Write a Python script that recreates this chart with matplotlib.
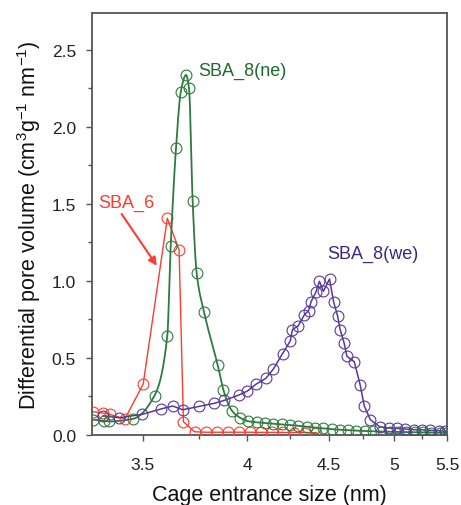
import numpy as np
import matplotlib
matplotlib.use('Agg')
import matplotlib.pyplot as plt
from matplotlib.ticker import FixedLocator, MultipleLocator, FormatStrFormatter

plt.rcParams['font.family'] = ['Liberation Sans', 'DejaVu Sans']
plt.rcParams['mathtext.fontset'] = 'custom'
plt.rcParams['mathtext.rm'] = 'Liberation Sans'
plt.rcParams['mathtext.it'] = 'Liberation Sans:italic'

# ---------------- data ----------------
sba6_x = [3.305, 3.340, 3.368, 3.427, 3.502, 3.606, 3.659, 3.679, 3.731, 3.785,
          3.839, 3.896, 3.954, 4.014, 4.076, 4.140, 4.205, 4.273, 4.343, 4.416]
sba6_y = [0.151, 0.143, 0.134, 0.104, 0.331, 1.407, 1.203, 0.086, 0.021, 0.018,
          0.018, 0.018, 0.018, 0.018, 0.017, 0.017, 0.017, 0.016, 0.016, 0.015]

ne_x = [3.305, 3.345, 3.364, 3.460, 3.550, 3.606, 3.621, 3.645, 3.667, 3.691,
        3.705, 3.722, 3.741, 3.777, 3.844, 3.874, 3.917, 3.961, 4.006, 4.052,
        4.099, 4.147, 4.197, 4.247, 4.299, 4.352, 4.407, 4.462, 4.520, 4.578,
        4.639, 4.701, 4.764, 4.829, 4.896, 4.965, 5.036, 5.109, 5.184, 5.262,
        5.342, 5.424, 5.490]
ne_y = [0.100, 0.092, 0.088, 0.105, 0.256, 0.645, 1.225, 1.862, 2.229, 2.338,
        2.251, 1.522, 1.052, 0.797, 0.456, 0.290, 0.159, 0.112, 0.089, 0.082,
        0.078, 0.073, 0.069, 0.065, 0.060, 0.054, 0.048, 0.043, 0.038, 0.034,
        0.031, 0.028, 0.026, 0.024, 0.022, 0.021, 0.020, 0.019, 0.018, 0.017,
        0.016, 0.015, 0.014]

we_x = [3.342, 3.405, 3.498, 3.578, 3.630, 3.676, 3.754, 3.828, 3.879, 3.956,
        4.001, 4.047, 4.104, 4.148, 4.202, 4.249, 4.263, 4.300, 4.337, 4.365,
        4.382, 4.413, 4.437, 4.464, 4.506, 4.534, 4.562, 4.581, 4.610, 4.630,
        4.684, 4.729, 4.760, 4.807, 4.882, 4.956, 5.027, 5.100, 5.175, 5.253,
        5.333, 5.414, 5.480]
we_y = [0.125, 0.112, 0.134, 0.169, 0.188, 0.164, 0.186, 0.206, 0.225, 0.260,
        0.286, 0.329, 0.368, 0.429, 0.528, 0.610, 0.684, 0.710, 0.779, 0.807,
        0.866, 0.927, 0.998, 0.933, 1.013, 0.866, 0.775, 0.684, 0.595, 0.511,
        0.476, 0.325, 0.190, 0.100, 0.054, 0.045, 0.043, 0.039, 0.035, 0.034,
        0.030, 0.028, 0.024]

x_ticks = [3.5, 4.0, 4.5, 5.0, 5.5]
x_ticklabels = ['3.5', '4', '4.5', '5', '5.5']
x_minor = [3.75, 4.25, 4.75, 5.25]

c_red = '#ff3b2f'
c_green = '#2f7a3e'
c_purple = '#57389a'


def fwd(x):
    x = np.asarray(x, dtype=float)
    with np.errstate(divide='ignore', invalid='ignore'):
        return -1.0 / x


def inv(u):
    u = np.asarray(u, dtype=float)
    with np.errstate(divide='ignore', invalid='ignore'):
        return -1.0 / u


def pchip(xk, yk, xn):
    xk = np.asarray(xk, float); yk = np.asarray(yk, float)
    h = np.diff(xk); dl = np.diff(yk) / h
    n = len(xk); d = np.zeros(n)
    for k in range(1, n - 1):
        if dl[k - 1] * dl[k] > 0:
            w1 = 2 * h[k] + h[k - 1]; w2 = h[k] + 2 * h[k - 1]
            d[k] = (w1 + w2) / (w1 / dl[k - 1] + w2 / dl[k])
    d[0] = dl[0]; d[-1] = dl[-1]
    idx = np.clip(np.searchsorted(xk, xn) - 1, 0, n - 2)
    t = (xn - xk[idx]) / h[idx]
    h00 = 2 * t**3 - 3 * t**2 + 1; h10 = t**3 - 2 * t**2 + t
    h01 = -2 * t**3 + 3 * t**2; h11 = t**3 - t**2
    return (h00 * yk[idx] + h10 * h[idx] * d[idx] + h01 * yk[idx + 1]
            + h11 * h[idx] * d[idx + 1])


fig = plt.figure(figsize=(4.61, 5.06), dpi=100)
ax = fig.add_axes([92 / 461, 1 - 436 / 506, (447 - 92) / 461, (436 - 14) / 506])
ax.set_xscale('function', functions=(fwd, inv))
ax.set_xlim(3.30, 5.5)
ax.set_ylim(0, 2.74)

ms = 7.8
mew = 0.8
# SBA_6 (straight segments)
ax.plot(sba6_x, sba6_y, '-', color=c_red, lw=1.0, zorder=2)
ax.plot(sba6_x, sba6_y, 'o', mfc='none', mec=c_red, ms=ms, mew=mew, zorder=3)

# SBA_8(ne) smooth curve through points (in transformed space)
u = fwd(ne_x)
un = np.linspace(u[0], u[-1], 800)
ax.plot(inv(un), pchip(u, ne_y, un), '-', color=c_green, lw=1.3, zorder=4)
ax.plot(ne_x, ne_y, 'o', mfc='none', mec=c_green, ms=ms, mew=mew, zorder=5)

# SBA_8(we)
ax.plot(we_x, we_y, '-', color=c_purple, lw=1.1, zorder=4)
ax.plot(we_x, we_y, 'o', mfc='none', mec=c_purple, ms=ms, mew=mew, zorder=5)

# annotations
ax.text(3.748, 2.370, 'SBA_8(ne)', color='#1e6a2e', fontsize=13, va='center', ha='left')
ax.text(4.490, 1.182, 'SBA_8(we)', color='#3f2680', fontsize=13, va='center', ha='left')
ax.text(3.322, 1.513, 'SBA_6', color=c_red, fontsize=13, va='center', ha='left')
ax.annotate('', xy=(3.560, 1.099), xytext=(3.414, 1.435),
            arrowprops=dict(arrowstyle='-|>', color=c_red, lw=1.5,
                            mutation_scale=12, shrinkA=0, shrinkB=0))

# axes styling
ax.xaxis.set_major_locator(FixedLocator(x_ticks))
ax.xaxis.set_minor_locator(FixedLocator(x_minor))
ax.set_xticklabels(x_ticklabels)
ax.yaxis.set_major_locator(MultipleLocator(0.5))
ax.yaxis.set_minor_locator(MultipleLocator(0.25))
ax.yaxis.set_major_formatter(FormatStrFormatter('%.1f'))
for s in ax.spines.values():
    s.set_color('#555555')
    s.set_linewidth(1.3)
ax.tick_params(which='both', direction='out', color='#555555', width=1.0,
               top=False, right=False, labelsize=12.5, labelcolor='#222222')
ax.tick_params(which='major', length=4.5)
ax.tick_params(which='minor', length=3)
ax.tick_params(axis='x', which='major', pad=11)
ax.tick_params(axis='y', which='major', pad=7)

ax.set_xlabel('Cage entrance size (nm)', fontsize=15.5, labelpad=9, color='#111111')
ax.set_ylabel(r'Differential pore volume (cm$^{3}$g$^{-1}$ nm$^{-1}$)',
              fontsize=15.5, labelpad=6, color='#111111')

fig.savefig('out.png', dpi=100)
